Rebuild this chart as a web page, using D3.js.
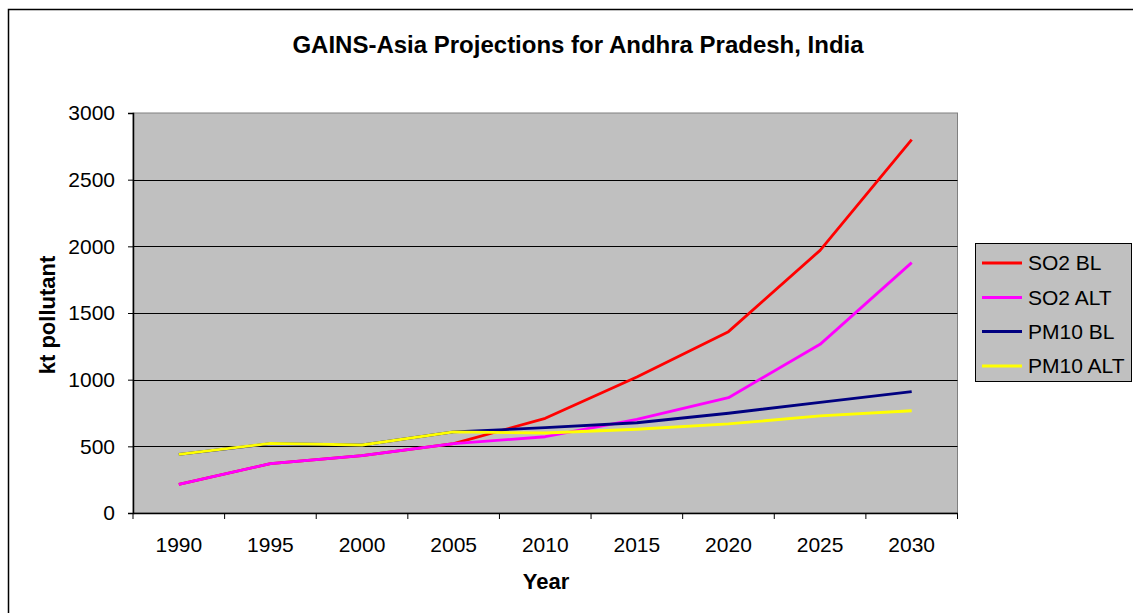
<!DOCTYPE html>
<html><head><meta charset="utf-8">
<script src="https://cdn.jsdelivr.net/npm/d3@7"></script>
<style>body{margin:0;background:#fff;}svg{display:block;font-family:"Liberation Sans",Arial,sans-serif;}</style>
</head><body>
<script>
const years = ["1990","1995","2000","2005","2010","2015","2020","2025","2030"];
const so2BL  = [215, 370, 430, 520, 710, 1020, 1360, 1970, 2800];
const so2ALT = [215, 370, 430, 520, 572, 703, 865, 1265, 1878];
const pm10BL = [440, 520, 510, 608, 640, 677, 748, 830, 910];
const pm10ALT= [440, 522, 510, 608, 600, 628, 668, 728, 767];
const seriesNames = ["SO2 BL","SO2 ALT","PM10 BL","PM10 ALT"];
const seriesColors = ["#ff0000","#ff00ff","#000080","#ffff00"];
const yTicks = [0,500,1000,1500,2000,2500,3000];

const W=1133,H=613;
const FONT="Liberation Sans, Arial, sans-serif";
const svg=d3.select("body").append("svg").attr("width",W).attr("height",H);
svg.append("rect").attr("x",8.5).attr("y",9.5).attr("width",1140).attr("height",620).attr("fill","#fff").attr("stroke","#000").attr("stroke-width",1.5);

const L=133,R=957.5,T=113,B=513;
const x=d3.scaleBand().domain(years).range([L,R]);
const y=d3.scaleLinear().domain([0,3000]).range([B,T]);

svg.append("rect").attr("x",L).attr("y",T).attr("width",R-L).attr("height",B-T).attr("fill","#c0c0c0").attr("stroke","#808080").attr("stroke-width",1);

// grid
svg.append("g").selectAll("line").data(yTicks.filter(d=>d>0&&d<3000)).join("line")
  .attr("x1",L).attr("x2",R).attr("y1",d=>Math.round(y(d))+0.5).attr("y2",d=>Math.round(y(d))+0.5)
  .attr("stroke","#000").attr("stroke-width",1);

// y axis
const ya=svg.append("g").attr("transform",`translate(${L},0)`)
  .call(d3.axisLeft(y).tickValues(yTicks).tickSize(5).tickPadding(13).tickFormat(d3.format("d")));
ya.select(".domain").attr("stroke","#000").attr("stroke-width",1.5);
ya.selectAll("line").attr("stroke","#000");
ya.selectAll("text").attr("font-size",21).attr("font-family",FONT).attr("fill","#000");

// x axis
const xa=svg.append("g").attr("transform",`translate(0,${B})`)
  .call(d3.axisBottom(x).tickSize(0).tickPadding(24));
xa.select(".domain").attr("stroke","#000").attr("stroke-width",1.5);
xa.selectAll("text").attr("font-size",21).attr("font-family",FONT).attr("fill","#000");
// boundary ticks
const bounds=years.map(d=>x(d)).concat([R]);
svg.append("g").selectAll("line").data(bounds).join("line")
  .attr("x1",d=>d).attr("x2",d=>d).attr("y1",B).attr("y2",B+6).attr("stroke","#000").attr("stroke-width",1);

// lines
const data=[so2BL,so2ALT,pm10BL,pm10ALT];
const line=d3.line().x((d,i)=>x(years[i])+x.bandwidth()/2).y(d=>y(d));
svg.append("g").selectAll("path").data(data).join("path")
  .attr("d",line).attr("fill","none").attr("stroke",(d,i)=>seriesColors[i]).attr("stroke-width",2.8).attr("stroke-linejoin","round");

// title
svg.append("text").attr("x",578).attr("y",53).attr("text-anchor","middle").attr("font-size",24).attr("font-weight","bold").text("GAINS-Asia Projections for Andhra Pradesh, India");
svg.append("text").attr("x",546).attr("y",589).attr("text-anchor","middle").attr("font-size",22).attr("font-weight","bold").text("Year");
svg.append("text").attr("transform","translate(55,315) rotate(-90)").attr("text-anchor","middle").attr("font-size",22).attr("font-weight","bold").text("kt pollutant");

// legend
const lg=svg.append("g");
lg.append("rect").attr("x",975.5).attr("y",243.5).attr("width",156).attr("height",138).attr("fill","#c0c0c0").attr("stroke","#000").attr("stroke-width",1);
const ly=[263,297.5,331.5,366];
seriesNames.forEach((n,i)=>{
  lg.append("line").attr("x1",982).attr("x2",1022).attr("y1",ly[i]).attr("y2",ly[i]).attr("stroke",seriesColors[i]).attr("stroke-width",2.8);
  lg.append("text").attr("x",1028).attr("y",ly[i]+7).attr("font-size",21).text(n);
});
</script>
</body></html>
